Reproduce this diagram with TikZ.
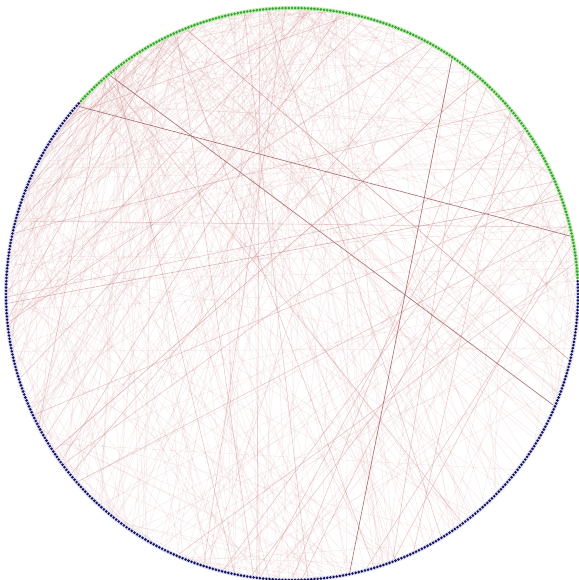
\documentclass[tikz,border=0pt]{standalone}
\definecolor{gdot}{HTML}{3FA03A}
\definecolor{ghalo}{HTML}{BDEFB0}
\definecolor{bdot}{HTML}{14145A}
\definecolor{bhalo}{HTML}{DCDCF6}
\definecolor{edgec}{HTML}{C47474}
\definecolor{edged}{HTML}{9C5858}
\pgfdeclarelayer{bg}
\pgfsetlayers{bg,main}
\begin{document}
\begin{tikzpicture}[x=1pt,y=1pt,
 lite/.style={draw=edgec, line width=0.5pt, opacity=0.14},
 mid/.style={draw=edgec, line width=0.55pt, opacity=0.4},
 dark/.style={draw=edged, line width=0.7pt, opacity=0.8},
 gnode/.style={circle, fill=gdot, inner sep=0pt, minimum size=2.9pt},
 bnode/.style={circle, fill=bdot, inner sep=0pt, minimum size=2.9pt},
 halo/.style={line width=4pt}]
\useasboundingbox (0,0) rectangle (578,580);
\begin{scope}[shift={(292,286)}]
\draw[halo, ghalo] (3.2:286) arc[start angle=3.2, end angle=137.6, radius=286];
\draw[halo, bhalo] (138.2:286) arc[start angle=138.2, end angle=362.6, radius=286];
\foreach \i in {0,...,559}{
  \ifnum\i<5 \def\st{bnode}\else\ifnum\i>214 \def\st{bnode}\else\def\st{gnode}\fi\fi
  \node[\st] (n\i) at ({\i*0.6428571}:286) {};
}
\begin{pgfonlayer}{bg}
\pgfmathsetseed{11}
\foreach \k in {1,...,470}{
  \pgfmathrandominteger{\t}{1}{10}
  \pgfmathrandominteger{\s}{0}{1}
  \ifnum\s=1 \pgfmathrandominteger{\a}{120}{214}\else\pgfmathrandominteger{\a}{5}{214}\fi
  \pgfmathrandominteger{\u}{0}{3}
  \ifnum\u=0 \pgfmathrandominteger{\b}{450}{564}\else\pgfmathrandominteger{\b}{215}{450}\fi
  \pgfmathtruncatemacro{\b}{mod(\b,560)}
  \ifnum\t>8 \pgfmathrandominteger{\a}{215}{450}\fi
  \ifnum\t=7 \pgfmathrandominteger{\b}{5}{214}\fi
  \draw[lite] (n\a) -- (n\b);
}
\foreach \k in {1,...,36}{
  \pgfmathrandominteger{\a}{5}{214}
  \pgfmathrandominteger{\b}{215}{500}
  \draw[mid] (n\a) -- (n\b);
}
\draw[dark] (n216) -- (n18);
\draw[dark] (n202) -- (n524);
\draw[dark] (n87) -- (n438);
\draw[mid, opacity=0.65] (n174) -- (n539);
\draw[mid, opacity=0.55] (n76) -- (n332);
\draw[mid, opacity=0.55] (n283) -- (n30);
\end{pgfonlayer}
\end{scope}
\end{tikzpicture}
\end{document}
